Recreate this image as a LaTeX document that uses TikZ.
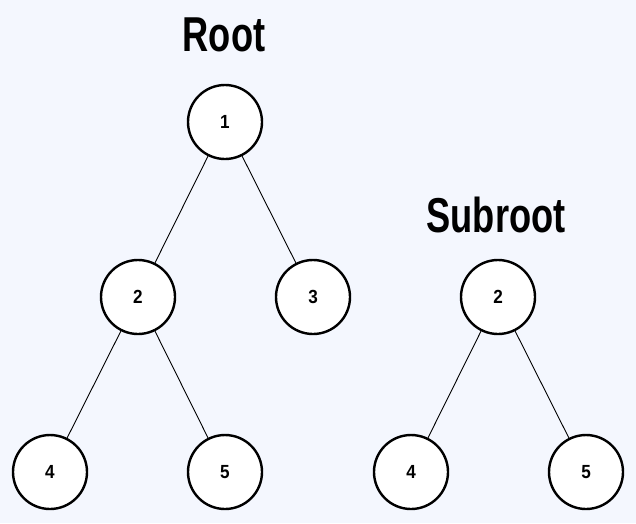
\documentclass[tikz,border=0pt]{standalone}
\usepackage{fontspec}
\setmainfont{Liberation Sans}
\newfontfamily\titlefont[FakeStretch=0.74]{Liberation Sans}
\newfontfamily\digitfont[FakeStretch=0.9]{Liberation Sans}
\definecolor{bgcol}{HTML}{F4F7FE}
\begin{document}
\begin{tikzpicture}[x=1pt,y=-1pt,
  treenode/.style={circle,draw=black,line width=2.4pt,fill=white,minimum size=74pt,inner sep=0pt,font=\digitfont\fontsize{19}{19}\selectfont\bfseries},
  edge/.style={draw=black,line width=0.9pt},
  title/.style={font=\titlefont\fontsize{49}{49}\selectfont\bfseries,inner sep=0pt}]
\fill[bgcol] (0,0) rectangle (636,523);
\useasboundingbox (0,0) rectangle (636,523);
\node[title] (troot) at (224,35) {Root};
\node[title] (tsub) at (496,215) {Subroot};
\node[treenode] (n1) at (225,122) {1};
\node[treenode] (n2) at (138,297) {2};
\node[treenode] (n3) at (313,297) {3};
\node[treenode] (n4) at (50,472) {4};
\node[treenode] (n5) at (225,472) {5};
\node[treenode] (s2) at (498,297) {2};
\node[treenode] (s4) at (411,472) {4};
\node[treenode] (s5) at (586,472) {5};
\draw[edge] (n1) -- (n2);
\draw[edge] (n1) -- (n3);
\draw[edge] (n2) -- (n4);
\draw[edge] (n2) -- (n5);
\draw[edge] (s2) -- (s4);
\draw[edge] (s2) -- (s5);
\end{tikzpicture}
\end{document}
